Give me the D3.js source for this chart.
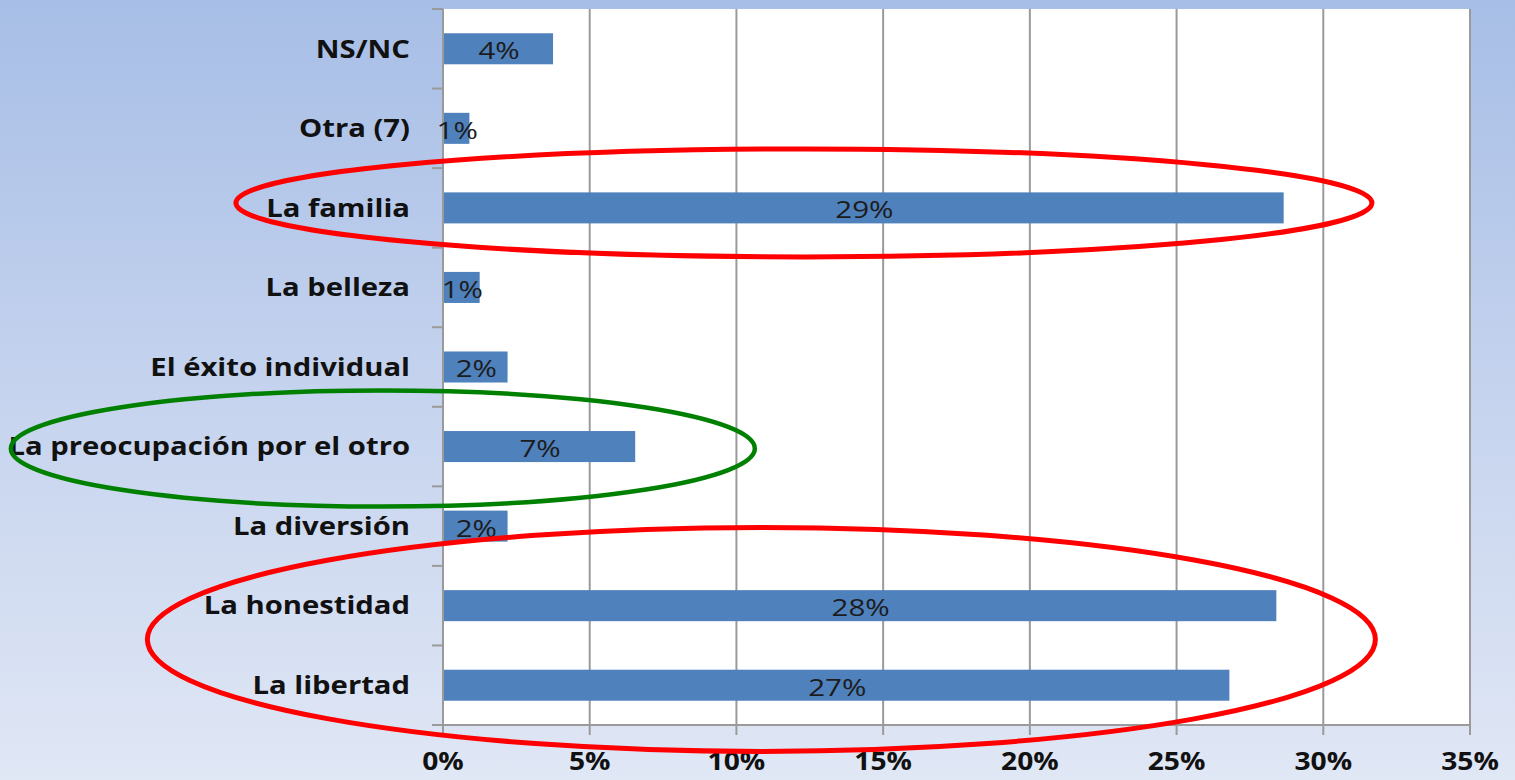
<!DOCTYPE html>
<html><head><meta charset="utf-8">
<script src="https://cdn.jsdelivr.net/npm/d3@7"></script>
<style>html,body{margin:0;padding:0;overflow:hidden;}</style>
</head><body>
<svg id="c" width="1515" height="780"></svg>
<script>
const categories = ["NS/NC","Otra (7)","La familia","La belleza","El éxito individual","La preocupación por el otro","La diversión","La honestidad","La libertad"];
const values = [3.75, 0.9, 28.65, 1.25, 2.2, 6.55, 2.2, 28.4, 26.8];
const valueLabels = ["4%","1%","29%","1%","2%","7%","2%","28%","27%"];
const xTicks = [0,5,10,15,20,25,30,35];
const xTickLabels = ["0%","5%","10%","15%","20%","25%","30%","35%"];

const W=1515,H=780;
const m={left:443,top:9,right:45,bottom:55};
const svg=d3.select("#c");
const defs=svg.append("defs");
const g=defs.append("linearGradient").attr("id","bg").attr("x1",0).attr("y1",0).attr("x2",0).attr("y2",1);
g.append("stop").attr("offset","0%").attr("stop-color","#a7bee6");
g.append("stop").attr("offset","50%").attr("stop-color","#c5d3ee");
g.append("stop").attr("offset","100%").attr("stop-color","#e0e7f5");
svg.append("rect").attr("width",W).attr("height",H).attr("fill","url(#bg)");

const x=d3.scaleLinear().domain([0,35]).range([m.left,W-m.right]);
const y=d3.scaleBand().domain(categories).range([m.top,H-m.bottom]).paddingInner(0.61).paddingOuter(0.305);
const SX=1.13; // horizontal stretch of the original's text

svg.append("rect").attr("x",x(0)).attr("y",m.top).attr("width",x(35)-x(0)).attr("height",H-m.bottom-m.top).attr("fill","#fff");

svg.append("g").selectAll("line").data(xTicks.slice(1)).join("line")
 .attr("x1",d=>x(d)).attr("x2",d=>x(d)).attr("y1",m.top).attr("y2",H-m.bottom+10)
 .attr("stroke","#9a9a9a").attr("stroke-width",2);
svg.append("line").attr("x1",x(0)).attr("x2",x(0)).attr("y1",m.top).attr("y2",H-m.bottom+10).attr("stroke","#9a9a9a").attr("stroke-width",2);
svg.append("line").attr("x1",x(0)-11).attr("x2",x(35)).attr("y1",H-m.bottom).attr("y2",H-m.bottom).attr("stroke","#9a9a9a").attr("stroke-width",2);
const step=y.step();
const bounds=d3.range(categories.length).map(i=>m.top+step*i);
svg.append("g").selectAll("line").data(bounds).join("line")
 .attr("x1",x(0)-11).attr("x2",x(0)).attr("y1",d=>d).attr("y2",d=>d)
 .attr("stroke","#9a9a9a").attr("stroke-width",2);

svg.append("g").selectAll("rect").data(categories).join("rect")
 .attr("x",x(0)+1).attr("y",d=>y(d)).attr("width",(d,i)=>x(values[i])-x(0)-1).attr("height",y.bandwidth())
 .attr("fill","#4f81bd");
svg.append("g").selectAll("text").data(categories).join("text")
 .attr("transform",(d,i)=>`translate(${(x(values[i])+x(0))/2+1},${y(d)+y.bandwidth()/2+2}) scale(${SX+0.1},1)`)
 .attr("dy","0.35em").attr("text-anchor","middle")
 .attr("font-family","'Open Sans', sans-serif").attr("font-size",24).attr("fill","#1c1c1c")
 .text((d,i)=>valueLabels[i]);
svg.append("g").selectAll("text").data(categories).join("text")
 .attr("transform",d=>`translate(410,${y(d)+y.bandwidth()/2}) scale(1.17,1)`)
 .attr("dy","0.35em").attr("text-anchor","end")
 .attr("font-family","'Open Sans', sans-serif").attr("font-weight","bold").attr("font-size",25).attr("fill","#111")
 .text(d=>d);
svg.append("g").selectAll("text").data(xTicks).join("text")
 .attr("transform",d=>`translate(${x(d)},${H-10}) scale(${SX},1)`).attr("text-anchor","middle")
 .attr("font-family","'Open Sans', sans-serif").attr("font-weight","bold").attr("font-size",25).attr("fill","#111")
 .text((d,i)=>xTickLabels[i]);

const cy=c=>y(c)+y.bandwidth()/2;
svg.append("ellipse").attr("cx",x(12.3)).attr("cy",cy("La familia")-5).attr("rx",568).attr("ry",54)
 .attr("fill","none").attr("stroke","#ff0000").attr("stroke-width",5);
svg.append("ellipse").attr("cx",x(-2.05)).attr("cy",cy("La preocupación por el otro")+2).attr("rx",372).attr("ry",58)
 .attr("fill","none").attr("stroke","#008000").attr("stroke-width",4.5);
svg.append("ellipse").attr("cx",x(10.85)).attr("cy",(cy("La honestidad")+cy("La libertad"))/2-6).attr("rx",614).attr("ry",112)
 .attr("fill","none").attr("stroke","#ff0000").attr("stroke-width",5);
</script>
</body></html>
